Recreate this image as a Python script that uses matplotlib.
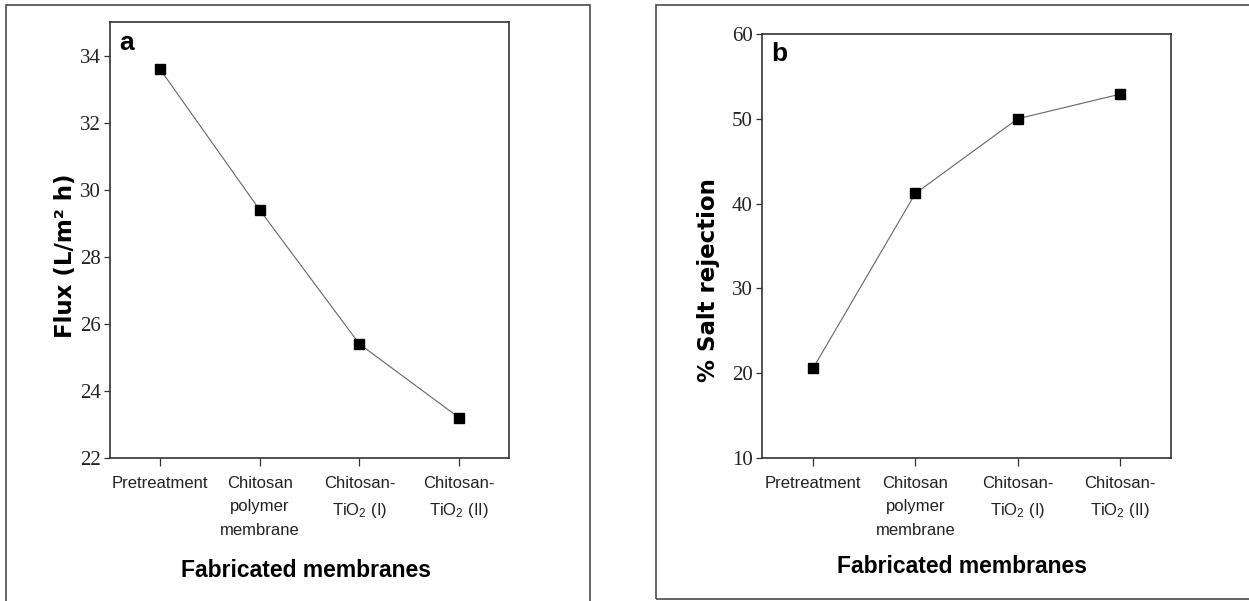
import matplotlib
matplotlib.use('Agg')
import matplotlib.pyplot as plt
from matplotlib.patches import Rectangle
from matplotlib import font_manager

# data
membranes = ['Pretreatment', 'Chitosan\npolymer\nmembrane',
             'Chitosan-\nTiO$_2$ (I)', 'Chitosan-\nTiO$_2$ (II)']
flux = [33.6, 29.4, 25.4, 23.2]
salt_rejection = [20.6, 41.2, 50.0, 52.9]
flux_ticks = [22, 24, 26, 28, 30, 32, 34]
rejection_ticks = [10, 20, 30, 40, 50, 60]

names = set(f.name for f in font_manager.fontManager.ttflist)
narrow = 'Liberation Sans Narrow' if 'Liberation Sans Narrow' in names else 'Liberation Sans'

plt.rcParams['mathtext.fontset'] = 'custom'
plt.rcParams['mathtext.rm'] = narrow
plt.rcParams['mathtext.it'] = narrow

W, H = 1249, 601
fig = plt.figure(figsize=(W / 100, H / 100), dpi=100)


def px_box(left, top, right, bottom):
    return [left / W, (H - bottom) / H, (right - left) / W, (bottom - top) / H]


def frame(left, top, right, bottom):
    x, y, w, h = px_box(left, top, right, bottom)
    fig.add_artist(Rectangle((x, y), w, h, transform=fig.transFigure,
                             fill=False, edgecolor='#4a4a4a', linewidth=1.2))


def panel(box, values, ylim, yticks, ylabel, letter, ylabel_pos):
    ax = fig.add_axes(box)
    x = list(range(len(membranes)))
    ax.plot(x, values, color='#666666', linewidth=0.8, marker='s',
            markersize=6.5, markerfacecolor='black', markeredgecolor='black')
    ax.set_xlim(-0.5, len(membranes) - 0.5)
    ax.set_ylim(*ylim)
    ax.set_yticks(yticks)
    ax.set_xticks(x)
    ax.set_xticklabels(membranes, fontsize=12, family=narrow, linespacing=1.7,
                       color='#222222')
    for lab in ax.get_yticklabels():
        lab.set_family('Liberation Serif')
        lab.set_fontsize(15)
        lab.set_color('#222222')
    ax.tick_params(axis='y', direction='out', length=4.5, width=0.9,
                   color='#333333', pad=2)
    ax.tick_params(axis='x', direction='out', length=6, width=0.9,
                   color='#333333', pad=7)
    for s in ax.spines.values():
        s.set_color('#333333')
        s.set_linewidth(1.2)
    ax.set_xlabel('Fabricated membranes', fontsize=16.5, fontweight='bold',
                  family=narrow, va='center')
    ax.xaxis.set_label_coords(0.49, -0.257)
    ax.set_ylabel(ylabel, fontsize=16.5, fontweight='bold', family='DejaVu Sans',
                  va='center')
    ax.yaxis.set_label_coords(*ylabel_pos)
    ax.text(0.022, 0.98, letter, transform=ax.transAxes, fontsize=19,
            fontweight='bold', family=narrow, va='top', ha='left')
    return ax


frame(6, 5, 590, 620)
frame(656, 5, 1260, 599)

panel(px_box(110, 22, 509, 458), flux, (22, 35), flux_ticks,
      'Flux (L/m\u00b2 h)', 'a', (-0.111, 0.465))
panel(px_box(762, 34, 1171, 458), salt_rejection, (10, 60), rejection_ticks,
      '% Salt rejection', 'b', (-0.132, 0.42))

fig.savefig('out.png', dpi=100)
